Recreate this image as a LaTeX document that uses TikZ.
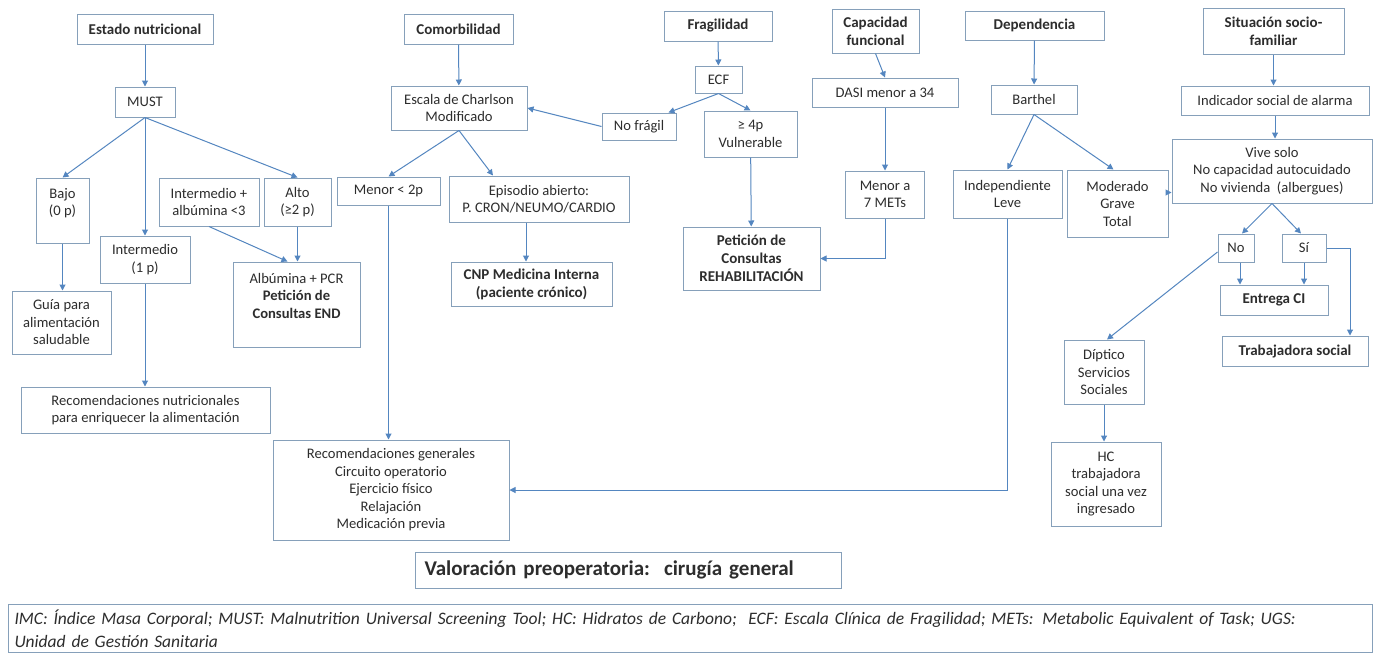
\documentclass[tikz,border=0pt]{standalone}
\usepackage{fontspec}
\setmainfont{Carlito}
\usetikzlibrary{arrows.meta}
\definecolor{boxline}{RGB}{134,160,186}
\definecolor{arrline}{RGB}{84,134,192}
\definecolor{txt}{RGB}{45,45,45}

\begin{document}
\begin{tikzpicture}[x=1pt,y=-1pt,
    box/.style={draw=boxline,line width=1pt,text=txt,align=center,inner sep=1pt,
      font=\fontsize{14.6}{17.5}\selectfont},
    head/.style={box,font=\fontsize{15}{18}\selectfont\bfseries},
    sz/.style 2 args={minimum width=#1pt,minimum height=#2pt},
    conn/.style={draw=arrline,line width=1pt,-{Triangle[length=6pt,width=6pt]}}]
  \fill[white] (0,0) rectangle (1376,657);
  \useasboundingbox (0,0) rectangle (1376,657);

  % estado nutricional
  \node[head,sz={136}{30}] at (145,29) (estado) {Estado nutricional};
  \node[box,sz={60}{30}] at (145,102) (must) {MUST};
  \node[box,sz={53}{65}] at (62.5,210.5) (bajo) {Bajo\\(0 p)\\\mbox{}};
  \node[box,sz={100}{48}] at (209,202) (intalb) {Intermedio +\\albúmina <3};
  \node[box,sz={67}{48}] at (297.5,202) (alto) {Alto\\(≥2 p)};
  \node[box,sz={90}{47}] at (145,259.5) (inter) {Intermedio\\(1 p)};
  \node[box,sz={127}{85}] at (296.5,304.5) (albpcr) {Albúmina + PCR\\\textbf{Petición de}\\\textbf{Consultas END}\\\mbox{}};
  \node[box,sz={99}{63}] at (61.5,322.5) (guia) {Guía para\\alimentación\\saludable};
  \node[box,sz={249}{46}] at (145.5,410) (recnut) {Recomendaciones nutricionales\\para enriquecer la alimentación};

  % comorbilidad y fragilidad
  \node[head,sz={109}{30}] at (458.5,29) (comorb) {Comorbilidad};
  \node[box,sz={136}{44}] at (459,108) (charlson) {Escala de Charlson\\Modificado};
  \node[box,sz={74}{27}] at (639,126.5) (nofragil) {No frágil};
  \node[box,sz={103}{28}] at (388.5,191) (menor) {Menor < 2p};
  \node[box,sz={180}{46}] at (539,199) (episodio) {Episodio abierto:\\P. CRON/NEUMO/CARDIO};
  \node[head,sz={161}{44}] at (531.5,284) (cnp) {CNP Medicina Interna\\(paciente crónico)};
  \node[head,sz={108}{30}] at (718,26) (fragil) {Fragilidad};
  \node[box,sz={47}{27}] at (718.5,79.5) (ecf) {ECF};
  \node[box,sz={93}{46}] at (750.5,134) (vulner) {≥ 4p\\Vulnerable};
  \node[head,sz={137}{63}] at (751.5,258.5) (rehab) {Petición de\\Consultas\\REHABILITACIÓN};

  % capacidad funcional y dependencia
  \node[head,sz={87}{44}] at (875.5,31) (capfun) {Capacidad\\funcional};
  \node[box,sz={146}{29}] at (885,92.5) (dasi) {DASI menor a 34};
  \node[box,sz={79}{47}] at (885,194.5) (mets) {Menor a\\7 METs};
  \node[head,sz={139}{29}] at (1034.5,25.5) (depend) {Dependencia};
  \node[box,sz={86}{29}] at (1034,99.5) (barthel) {Barthel};
  \node[box,sz={109}{48}] at (1007.5,194) (indep) {Independiente\\Leve};
  \node[box,sz={101}{67}] at (1117.5,203.5) (moder) {Moderado\\Grave\\Total};

  % situacion socio-familiar
  \node[head,sz={141}{46}] at (1273.5,31) (situ) {Situación socio-\\familiar};
  \node[box,sz={188}{29}] at (1275,100.5) (indic) {Indicador social de alarma};
  \node[box,sz={200}{64}] at (1272,171) (vive) {Vive solo\\No capacidad autocuidado\\No vivienda\ \ (albergues)};
  \node[box,sz={36}{28}] at (1236,248) (no) {No};
  \node[box,sz={44}{28}] at (1304,248) (si) {Sí};
  \node[head,sz={108}{30}] at (1274,300) (entrega) {Entrega CI};
  \node[head,sz={146}{30}] at (1295,351) (trab) {Trabajadora social};
  \node[box,sz={80}{64}] at (1104,372) (diptico) {Díptico\\Servicios\\Sociales};
  \node[box,sz={110}{84}] at (1106,484) (hcbox) {HC\\trabajadora\\social una vez\\ingresado};

  % abajo
  \node[box,sz={236}{100}] at (391,490) (recgen) {Recomendaciones generales\\Circuito operatorio\\Ejercicio físico\\Relajación\\Medicación previa};
  \node[box,anchor=west,sz={426}{36},align=left,text width=408pt,inner xsep=9pt,
    font=\fontsize{21}{24}\selectfont\bfseries] at (415,570) (titulo) {Valoración preoperatoria:\ \ cirugía general};
  \node[box,anchor=north west,sz={1364}{48},align=left,text width=1352pt,
    font=\fontsize{17.5}{23}\selectfont\itshape] at (8,604) (nota)
    {IMC: Índice Masa Corporal; MUST: Malnutrition Universal Screening Tool; HC: Hidratos de Carbono;\ \ ECF: Escala Clínica de Fragilidad; METs: Metabolic Equivalent of Task; UGS:\\Unidad de Gestión Sanitaria};

  % flechas
  \draw[conn] (estado) -- (must);
  \draw[conn] (must.south) -- (bajo.north);
  \draw[conn] (must.south) -- (inter.north);
  \draw[conn] (must.south) -- (alto.north);
  \draw[conn] (bajo.south) -- (bajo.south |- guia.north);
  \draw[conn] (intalb.south) -- ([xshift=-9pt]albpcr.north);
  \draw[conn] (alto.south) -- (alto.south |- albpcr.north);
  \draw[conn] (inter.south) -- (inter.south |- recnut.north);
  \draw[conn] (comorb) -- (charlson);
  \draw[conn] (charlson.south) -- (menor.north);
  \draw[conn] (charlson.south) -- ([xshift=-46pt]episodio.north);
  \draw[conn] ([xshift=-13pt]episodio.south) -- ([xshift=-13pt]episodio.south |- cnp.north);
  \draw[conn] (menor.south) -- (menor.south |- recgen.north);
  \draw[conn] (fragil) -- (ecf);
  \draw[conn] (ecf.south) -- ([xshift=-8pt]nofragil.north east);
  \draw[conn] (ecf.south) -- (vulner.north);
  \draw[conn] (nofragil.west) -- (charlson.east);
  \draw[conn] (vulner) -- (rehab);
  \draw[conn] (capfun.south) -- (dasi.north);
  \draw[conn] (dasi) -- (mets);
  \draw[conn] (mets.south) |- (rehab.east);
  \draw[conn] (depend) -- (barthel);
  \draw[conn] (barthel.south) -- (indep.north);
  \draw[conn] (barthel.south) -- ([xshift=-4pt]moder.north);
  \draw[conn] ([yshift=11pt]moder.east) -- ([yshift=11pt]moder.east -| vive.west);
  \draw[conn] (situ.south) -- (situ.south |- indic.north);
  \draw[conn] (indic.south) -- (indic.south |- vive.north);
  \draw[conn] (vive.south) -- ([xshift=6pt]no.north);
  \draw[conn] (vive.south) -- ([xshift=-3pt]si.north);
  \draw[conn] ([xshift=4pt]no.south) -- ([xshift=4pt]no.south |- entrega.north);
  \draw[conn] (si.south) -- (si.south |- entrega.north);
  \draw[conn] (si.east) -| ([xshift=55pt]trab.north);
  \draw[conn] ([yshift=-4pt]no.west) -- ([xshift=3pt]diptico.north);
  \draw[conn] (diptico.south) -- (diptico.south |- hcbox.north);
  \draw[conn] (indep.south) |- (recgen.east);
\end{tikzpicture}
\end{document}
